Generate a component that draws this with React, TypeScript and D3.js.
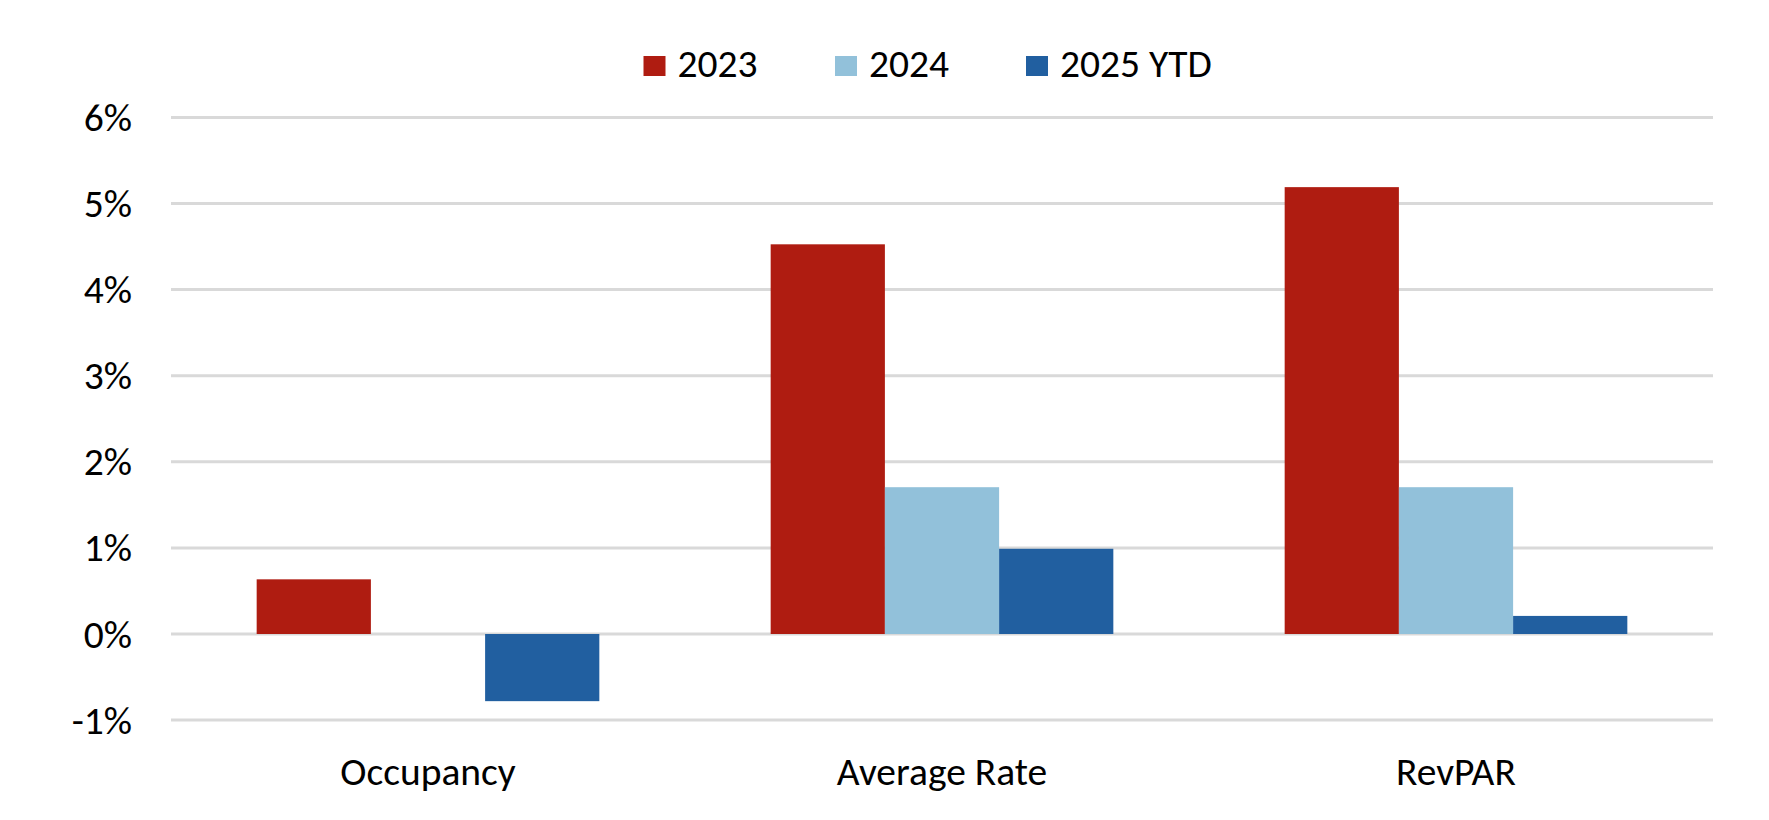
import React from "react";
import * as d3 from "d3";

const categories = ["Occupancy", "Average Rate", "RevPAR"];
const seriesNames = ["2023", "2024", "2025 YTD"];
const values2023 = [0.635, 4.526, 5.19];
const values2024 = [0, 1.705, 1.705];
const values2025 = [-0.78, 0.99, 0.21];
const yTicks = [-1, 0, 1, 2, 3, 4, 5, 6];
const colors = ["#AF1C11", "#92C1DA", "#215FA0"];

const W = 1769;
const H = 820;
const FONT = "Carlito, Calibri, Lato, sans-serif";
const FS = 39.5;

export default function App() {
  const series = [values2023, values2024, values2025];
  const x = d3.scaleBand<string>().domain(categories).range([171, 1713]).padding(0);
  const bw = x.bandwidth();
  const inner = d3
    .scaleBand<string>()
    .domain(seriesNames)
    .range([bw * (0.6 / 3.6), bw - bw * (0.6 / 3.6)])
    .padding(0);
  const y = d3.scaleLinear().domain([-1, 6]).range([720.1, 117.4]);

  const legendX = [643.5, 835, 1026];

  return (
    <div style={{ position: "absolute", left: 0, top: 0 }}>
      <svg width={W} height={H} style={{ display: "block", background: "#fff" }}>
        {yTicks.map((t) => (
          <g key={t}>
            <line x1={171} x2={1713} y1={y(t)} y2={y(t)} stroke="#D9D9D9" strokeWidth={3} />
            <text
              x={132}
              y={y(t) + 13.5}
              textAnchor="end"
              fontFamily={FONT}
              fontSize={FS}
              fill="#000"
            >
              {`${t}%`}
            </text>
          </g>
        ))}
        {series.map((vals, si) =>
          vals.map((v, ci) => {
            const x0 = (x(categories[ci]) as number) + (inner(seriesNames[si]) as number);
            const y0 = Math.min(y(v), y(0));
            const h = Math.abs(y(v) - y(0));
            if (h < 0.5) return null;
            return (
              <rect
                key={`${si}-${ci}`}
                x={x0}
                y={y0}
                width={inner.bandwidth()}
                height={h}
                fill={colors[si]}
              />
            );
          })
        )}
        {categories.map((c) => (
          <text
            key={c}
            x={(x(c) as number) + bw / 2}
            y={785}
            textAnchor="middle"
            fontFamily={FONT}
            fontSize={FS}
            fill="#000"
          >
            {c}
          </text>
        ))}
        {seriesNames.map((s, i) => (
          <g key={s}>
            <rect x={legendX[i]} y={56} width={22} height={20} fill={colors[i]} />
            <text x={legendX[i] + 34} y={77} fontFamily={FONT} fontSize={FS} fill="#000">
              {s}
            </text>
          </g>
        ))}
      </svg>
    </div>
  );
}
